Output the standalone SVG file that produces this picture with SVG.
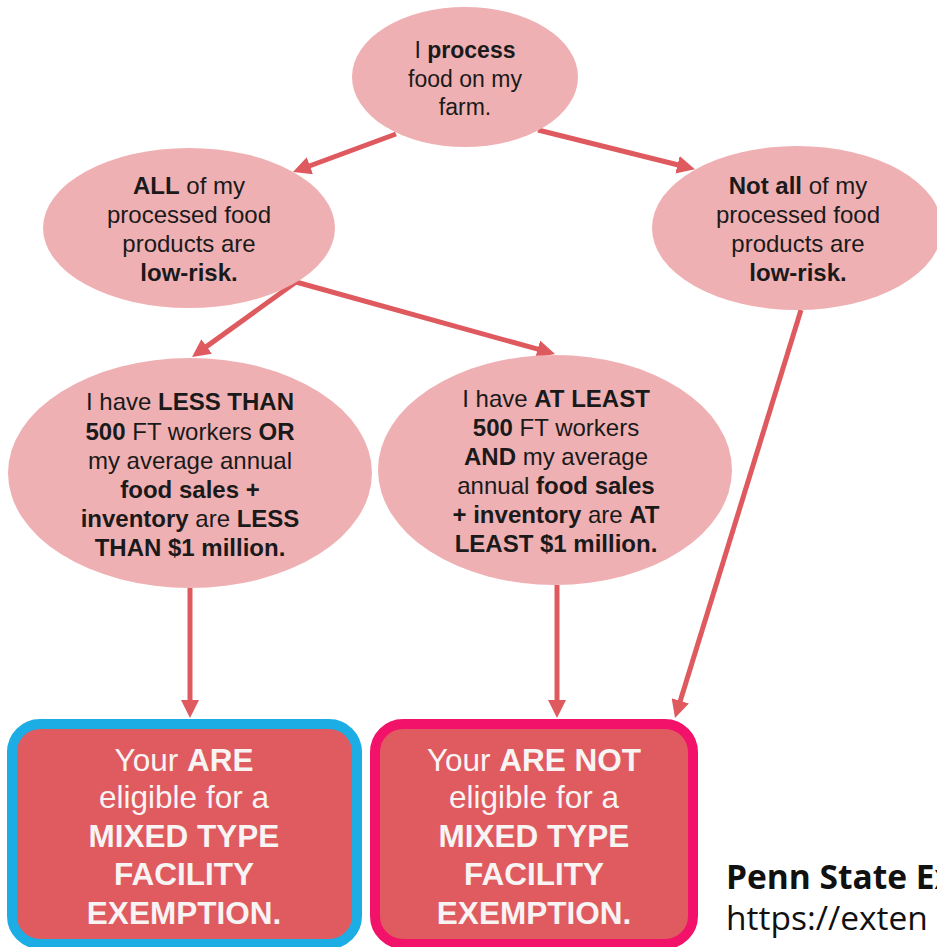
<svg xmlns="http://www.w3.org/2000/svg" width="937" height="947" viewBox="0 0 937 947">
<style>
.node{fill:#EFB0B3;}
.t{font-family:"Liberation Sans",Arial,sans-serif;font-size:24px;fill:#1a1a1a;text-anchor:middle;}
.t23{font-size:23px;}
.b{font-weight:bold;}
.conn{stroke:#DF5A5F;stroke-width:5;fill:none;marker-end:url(#ah);}
.box{fill:#E05B60;stroke-width:10;}
.bt{font-family:"Liberation Sans",Arial,sans-serif;font-size:31.5px;fill:#F8F4F4;text-anchor:middle;}
.src{font-family:"Open Sans","Liberation Sans",sans-serif;font-size:33.5px;fill:#111;}
</style>
<defs>
<marker id="ah" markerUnits="userSpaceOnUse" markerWidth="20" markerHeight="18" refX="2" refY="9" orient="auto" viewBox="0 0 20 18">
<path d="M0,0 L18,9 L0,18 z" fill="#DF5A5F"/>
</marker>
</defs>
<rect width="937" height="947" fill="#ffffff"/>
<g id="connectors">
<line class="conn" x1="396" y1="134" x2="308" y2="166.5"/>
<line class="conn" x1="538" y1="130" x2="679.4" y2="165.3"/>
<line class="conn" x1="296" y1="282" x2="205" y2="347.6"/>
<line class="conn" x1="296" y1="282" x2="539.6" y2="349.7"/>
<line class="conn" x1="801" y1="310" x2="679.7" y2="702.7"/>
<line class="conn" x1="190" y1="588" x2="190" y2="702"/>
<line class="conn" x1="557" y1="585" x2="557" y2="702"/>
</g>
<g id="n-process">
<ellipse class="node" cx="465" cy="77" rx="113" ry="70"/>
<text class="t t23" x="465" y="58">I <tspan class="b">process</tspan></text>
<text class="t t23" x="465" y="87">food on my</text>
<text class="t t23" x="465" y="115">farm.</text>
</g>
<g id="n-all">
<ellipse class="node" cx="189" cy="228" rx="146" ry="80"/>
<text class="t" x="189" y="194"><tspan class="b">ALL</tspan> of my</text>
<text class="t" x="189" y="223">processed food</text>
<text class="t" x="189" y="252">products are</text>
<text class="t b" x="189" y="281">low-risk.</text>
</g>
<g id="n-notall">
<ellipse class="node" cx="797" cy="228" rx="145" ry="82"/>
<text class="t" x="798" y="194"><tspan class="b">Not all</tspan> of my</text>
<text class="t" x="798" y="223">processed food</text>
<text class="t" x="798" y="252">products are</text>
<text class="t b" x="798" y="281">low-risk.</text>
</g>
<g id="n-less">
<ellipse class="node" cx="190" cy="473" rx="182" ry="115"/>
<text class="t" x="190" y="410">I have <tspan class="b">LESS THAN</tspan></text>
<text class="t" x="190" y="440"><tspan class="b">500</tspan> FT workers <tspan class="b">OR</tspan></text>
<text class="t" x="190" y="469">my average annual</text>
<text class="t b" x="190" y="498">food sales +</text>
<text class="t" x="190" y="527"><tspan class="b">inventory</tspan> are <tspan class="b">LESS</tspan></text>
<text class="t b" x="190" y="556">THAN $1 million.</text>
</g>
<g id="n-least">
<ellipse class="node" cx="555" cy="470" rx="177" ry="115"/>
<text class="t" x="556" y="407">I have <tspan class="b">AT LEAST</tspan></text>
<text class="t" x="556" y="436"><tspan class="b">500</tspan> FT workers</text>
<text class="t" x="556" y="465"><tspan class="b">AND</tspan> my average</text>
<text class="t" x="556" y="494">annual <tspan class="b">food sales</tspan></text>
<text class="t" x="556" y="523"><tspan class="b">+ inventory</tspan> are <tspan class="b">AT</tspan></text>
<text class="t b" x="556" y="552">LEAST $1 million.</text>
</g>
<g id="n-eligible">
<rect class="box" x="12" y="724" width="345" height="220" rx="28" stroke="#1BADE4"/>
<text class="bt" x="184" y="771">Your <tspan class="b">ARE</tspan></text>
<text class="bt" x="184" y="808">eligible for a</text>
<text class="bt b" x="184" y="847">MIXED TYPE</text>
<text class="bt b" x="184" y="885">FACILITY</text>
<text class="bt b" x="184" y="924">EXEMPTION.</text>
</g>
<g id="n-noteligible">
<rect class="box" x="375" y="724" width="318" height="220" rx="28" stroke="#F2126A"/>
<text class="bt" x="534" y="771">Your <tspan class="b">ARE NOT</tspan></text>
<text class="bt" x="534" y="808">eligible for a</text>
<text class="bt b" x="534" y="847">MIXED TYPE</text>
<text class="bt b" x="534" y="885">FACILITY</text>
<text class="bt b" x="534" y="924">EXEMPTION.</text>
</g>
<g id="source">
<text class="src b" x="726" y="889">Penn State Ex</text>
<text class="src" x="726" y="930">https://exten</text>
</g>
</svg>
